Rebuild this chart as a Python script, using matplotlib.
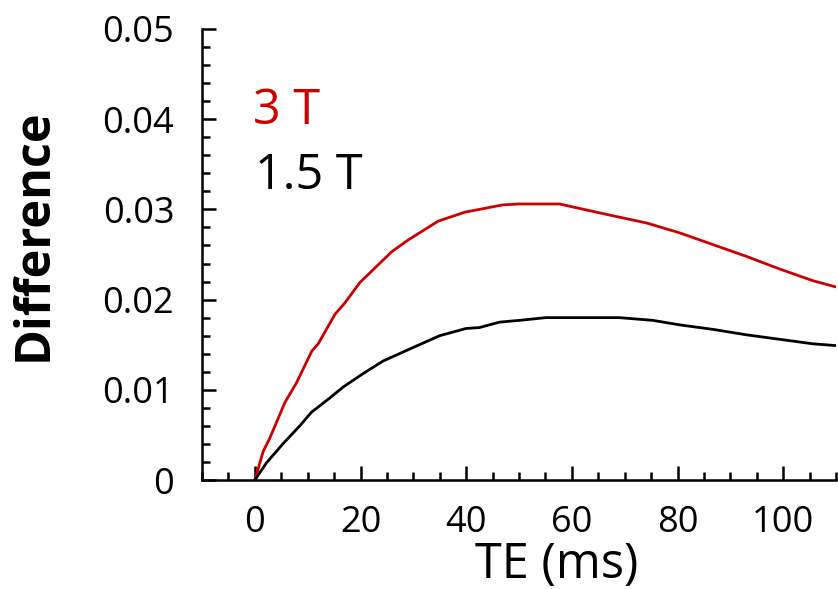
import matplotlib
matplotlib.use("Agg")
import matplotlib.pyplot as plt
from matplotlib.ticker import MultipleLocator

te_3t = [0, 1.6, 2.8, 5.7, 7.9, 10.8, 12, 15.2, 17, 19.9, 25.9, 29, 34.7, 39.8, 42.5,
         46.9, 50, 57.7, 61.5, 67.7, 74.1, 80.4, 86.7, 93, 99.3, 105.6, 110]
diff_3t = [0, 0.0032, 0.0046, 0.0086, 0.0108, 0.0143, 0.0151, 0.0184, 0.0196, 0.0219,
           0.0253, 0.0266, 0.0287, 0.0297, 0.0300, 0.0305, 0.0306, 0.0306, 0.0301,
           0.0293, 0.0285, 0.0274, 0.0261, 0.0248, 0.0234, 0.0221, 0.0214]
te_15t = [0, 2.2, 5.3, 8.5, 10.7, 14.2, 16.7, 20.5, 24.3, 30, 35, 40, 42.5, 46.3, 50.1,
          55.1, 69, 75.3, 80.4, 86.7, 93, 99.3, 105.6, 110]
diff_15t = [0, 0.0019, 0.0040, 0.0060, 0.0075, 0.0091, 0.0103, 0.0118, 0.0132, 0.0147,
            0.0160, 0.0168, 0.0169, 0.0175, 0.0177, 0.0180, 0.0180, 0.0177, 0.0172,
            0.0167, 0.0161, 0.0156, 0.0151, 0.0149]
yticks = [0, 0.01, 0.02, 0.03, 0.04, 0.05]
ytick_labels = ["0", "0.01", "0.02", "0.03", "0.04", "0.05"]
xticks = [0, 20, 40, 60, 80, 100]
xtick_labels = ["0", "20", "40", "60", "80", "100"]

plt.rcParams['font.family'] = ['Open Sans', 'DejaVu Sans']

fig = plt.figure(figsize=(8.38, 5.89), dpi=100)
ax = fig.add_axes([202/838, 1-480/589, 634/838, 451/589])

ax.plot(te_3t, diff_3t, color='#cc0000', lw=2.0)
ax.plot(te_15t, diff_15t, color='black', lw=2.0)

ax.set_xlim(-10, 110)
ax.set_ylim(0, 0.05)
ax.set_xticks(xticks)
ax.set_xticklabels(xtick_labels)
ax.set_yticks(yticks)
ax.set_yticklabels(ytick_labels)
ax.xaxis.set_minor_locator(MultipleLocator(5))
ax.yaxis.set_minor_locator(MultipleLocator(0.002))

for s in ['top', 'right']:
    ax.spines[s].set_visible(False)
for s in ['left', 'bottom']:
    ax.spines[s].set_linewidth(1.8)

ax.tick_params(which='major', direction='in', length=10, width=1.8, labelsize=26, pad=18)
ax.tick_params(which='minor', direction='in', length=5.5, width=1.8)
ax.tick_params(axis='y', which='major', pad=20)

ax.set_xlabel("TE (ms)", fontsize=35)
ax.xaxis.set_label_coords(0.56, -0.135)
ax.set_ylabel("Difference", fontsize=35, fontweight='bold')
ax.yaxis.set_label_coords(-0.226, 0.545)

ax.text(0.08, 0.79, "3 T", color='#cc0000', fontsize=35, transform=ax.transAxes)
ax.text(0.083, 0.645, "1.5 T", color='black', fontsize=35, transform=ax.transAxes)

fig.savefig("out.png", dpi=100)
